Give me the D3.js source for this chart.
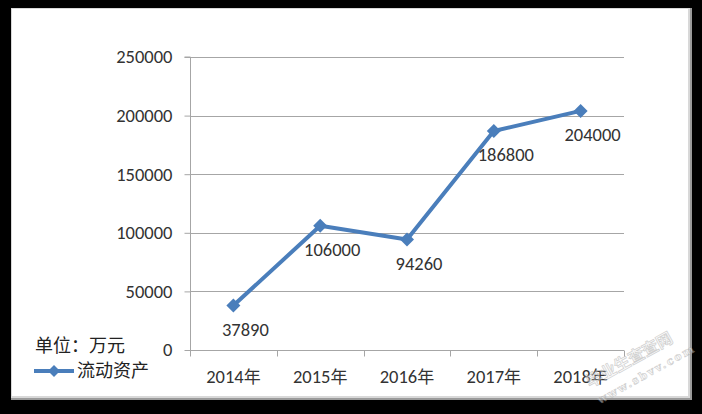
<!DOCTYPE html>
<html><head><meta charset="utf-8">
<script src="https://cdn.jsdelivr.net/npm/d3@7"></script>
<style>
html,body{margin:0;padding:0;background:#000;}
svg{display:block;}
</style></head>
<body>
<svg id="chart" width="702" height="414"></svg>
<script>
const categories = ["2014年","2015年","2016年","2017年","2018年"];
const values = [37890, 106000, 94260, 186800, 204000];
const yTicks = [0, 50000, 100000, 150000, 200000, 250000];
const seriesName = "流动资产";
const unitLabel = "单位：万元";

const svg = d3.select("#chart");
const W = 702, H = 414;
const blue = "#4a7ebb";
const latin = "Carlito, 'Liberation Sans', Arial, sans-serif";
const cjk = "'Noto Sans CJK SC', sans-serif";
const fs = "18.5px";

// background frame
svg.append("rect").attr("width", W).attr("height", H).attr("fill", "#000");
svg.append("rect").attr("x", 11).attr("y", 8).attr("width", 681).attr("height", 392).attr("fill", "#9a9a9a");
svg.append("rect").attr("x", 11).attr("y", 8).attr("width", 679).attr("height", 390).attr("fill", "#d8d8d8");
svg.append("rect").attr("x", 12).attr("y", 9).attr("width", 676).attr("height", 387).attr("fill", "#fff");

const x = d3.scaleBand().domain(categories).range([190, 624]).paddingInner(0).paddingOuter(0);
const y = d3.scaleLinear().domain([0, 250000]).range([350, 57]);

// gridlines
svg.append("g").selectAll("line").data(yTicks.filter(d => d > 0)).join("line")
  .attr("x1", 190).attr("x2", 624)
  .attr("y1", d => Math.round(y(d)) + 0.5).attr("y2", d => Math.round(y(d)) + 0.5)
  .attr("stroke", "#a6a6a6").attr("stroke-width", 1);

// y axis
const yAxis = d3.axisLeft(y).tickValues(yTicks).tickSize(6).tickPadding(12).tickFormat(d3.format("d"));
const gy = svg.append("g").attr("transform", "translate(190.5,0)").call(yAxis);
gy.select(".domain").attr("stroke", "#a6a6a6").attr("d", `M-6,${y(250000)}H0V${y(0)}`);
gy.selectAll(".tick line").attr("stroke", "#a6a6a6");
gy.selectAll(".tick text").attr("fill", "#333").style("font-family", latin).style("font-size", fs);

// x axis
const gx = svg.append("g").attr("transform", `translate(0,${y(0) + 0.5})`);
gx.append("line").attr("x1", 190).attr("x2", 624).attr("stroke", "#a6a6a6");
const edges = categories.map(c => x(c)).concat([x(categories[categories.length - 1]) + x.bandwidth()]);
gx.selectAll("line.tk").data(edges).join("line").attr("class", "tk")
  .attr("x1", d => Math.round(d) + 0.5).attr("x2", d => Math.round(d) + 0.5)
  .attr("y1", 0).attr("y2", 6).attr("stroke", "#a6a6a6");
gx.selectAll("text").data(categories).join("text")
  .attr("x", d => x(d) + x.bandwidth() / 2).attr("y", 32)
  .attr("text-anchor", "middle").attr("fill", "#333")
  .style("font-family", latin).style("font-size", fs)
  .each(function(d) {
    const t = d3.select(this);
    t.append("tspan").text(d.replace("年", ""));
    t.append("tspan").style("font-family", cjk).style("font-size", "17px").text("年");
  });

// line
const cx = d => x(d) + x.bandwidth() / 2;
const line = d3.line().x((d, i) => cx(categories[i])).y(d => y(d));
svg.append("path").datum(values).attr("d", line)
  .attr("fill", "none").attr("stroke", blue).attr("stroke-width", 4).attr("stroke-linejoin", "round");

// markers
svg.append("g").selectAll("path").data(values).join("path")
  .attr("transform", (d, i) => `translate(${cx(categories[i])},${y(d)})`)
  .attr("d", "M0,-7L7,0L0,7L-7,0Z")
  .attr("fill", blue);

// data labels
svg.append("g").selectAll("text").data(values).join("text")
  .attr("x", (d, i) => cx(categories[i]) + 12)
  .attr("y", d => y(d) + 30)
  .attr("text-anchor", "middle").attr("fill", "#333")
  .style("font-family", latin).style("font-size", fs)
  .text(d => d);

// unit label & legend
svg.append("text").attr("x", 35).attr("y", 352).attr("fill", "#222")
  .style("font-family", cjk).style("font-size", "18px").text(unitLabel);
svg.append("line").attr("x1", 34).attr("x2", 74).attr("y1", 371).attr("y2", 371)
  .attr("stroke", blue).attr("stroke-width", 4);
svg.append("path").attr("transform", "translate(54,371)").attr("d", "M0,-6L6,0L0,6L-6,0Z").attr("fill", blue);
svg.append("text").attr("x", 77).attr("y", 377).attr("fill", "#222")
  .style("font-family", cjk).style("font-size", "18px").text(seriesName);

// watermark
const wm = svg.append("g").attr("opacity", 0.5);
wm.append("text").attr("transform", "translate(590,388) rotate(-29)")
  .attr("fill", "#f4f4f4").attr("stroke", "#a0a0a0").attr("stroke-width", 0.7)
  .style("font-family", cjk).style("font-size", "16px").style("font-weight", "bold")
  .text("毕业生查查网");
wm.append("text").attr("transform", "translate(600,404) rotate(-29)")
  .attr("fill", "#f4f4f4").attr("stroke", "#a0a0a0").attr("stroke-width", 0.6)
  .style("font-family", "'DejaVu Serif', serif").style("font-size", "11px").style("font-weight", "bold")
  .style("letter-spacing", "2px")
  .text("www.sbvv.com");
</script>
</body></html>
